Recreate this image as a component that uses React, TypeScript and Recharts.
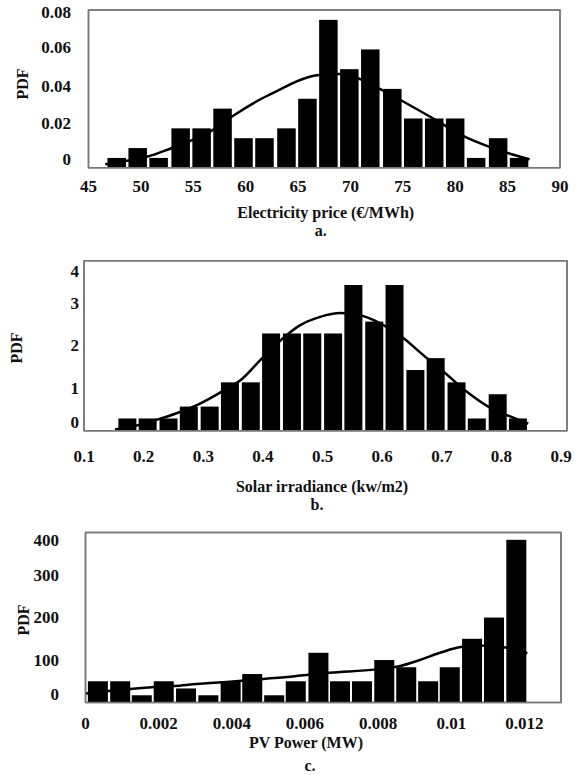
import { Bar, ComposedChart, Line, ReferenceArea, XAxis, YAxis } from "recharts";

// a. electricity price histogram (bin centres, pdf) + fitted curve
const priceBins = [47.7, 49.7, 51.7, 53.8, 55.8, 57.8, 59.8, 61.8, 63.9, 65.9, 67.9, 69.9, 71.9, 74.0, 76.0, 78.0, 80.0, 82.0, 84.1, 86.1];
const pricePdf = [0.005, 0.01, 0.005, 0.02, 0.02, 0.03, 0.015, 0.015, 0.02, 0.035, 0.075, 0.05, 0.06, 0.04, 0.025, 0.025, 0.025, 0.005, 0.015, 0.005];
const priceFitX = [46.6, 48.5, 50.6, 52.9, 54.9, 56.8, 58.7, 61.5, 63.4, 65.2, 67.0, 69.0, 70.9, 72.8, 74.9, 77.9, 80.8, 83.2, 85.3, 87.1];
const priceFitY = [0.0018, 0.0034, 0.0056, 0.0099, 0.014, 0.019, 0.026, 0.035, 0.04, 0.0445, 0.047, 0.0475, 0.045, 0.04, 0.034, 0.025, 0.016, 0.0107, 0.007, 0.0043];
const priceTicks = [45, 50, 55, 60, 65, 70, 75, 80, 85, 90];
const priceYTicks = [0, 0.02, 0.04, 0.06, 0.08];

// b. solar irradiance
const solarBins = [0.173, 0.207, 0.242, 0.276, 0.311, 0.345, 0.38, 0.414, 0.449, 0.483, 0.518, 0.552, 0.587, 0.621, 0.656, 0.69, 0.725, 0.759, 0.794, 0.828];
const solarPdf = [0.29, 0.29, 0.29, 0.57, 0.57, 1.14, 1.14, 2.29, 2.29, 2.29, 2.29, 3.43, 2.57, 3.43, 1.43, 1.71, 1.14, 0.29, 0.86, 0.29];
const solarFitX = [0.152, 0.19, 0.222, 0.253, 0.292, 0.331, 0.365, 0.398, 0.429, 0.462, 0.496, 0.53, 0.563, 0.597, 0.636, 0.669, 0.703, 0.742, 0.778, 0.823, 0.845];
const solarFitY = [0.03, 0.13, 0.26, 0.4, 0.62, 0.92, 1.22, 1.7, 2.12, 2.48, 2.68, 2.77, 2.72, 2.53, 2.18, 1.78, 1.39, 0.92, 0.57, 0.29, 0.17];
const solarTicks = [0.1, 0.2, 0.3, 0.4, 0.5, 0.6, 0.7, 0.8, 0.9];
const solarYTicks = [0, 1, 2, 3, 4];

// c. PV power
const pvBins = [0.00034, 0.00095, 0.00154, 0.00214, 0.00275, 0.00336, 0.00397, 0.00456, 0.00516, 0.00575, 0.00637, 0.00696, 0.00756, 0.00817, 0.00877, 0.00937, 0.00996, 0.01057, 0.01117, 0.01178];
const pvPdf = [50, 50, 17, 50, 33, 17, 50, 67, 17, 50, 117, 50, 50, 100, 83, 50, 83, 150, 200, 383];
const pvFitX = [0, 0.00062, 0.00122, 0.00181, 0.00243, 0.00304, 0.00363, 0.00427, 0.00481, 0.00572, 0.00604, 0.00668, 0.00796, 0.0085, 0.00914, 0.00969, 0.01031, 0.01105, 0.01144, 0.01208];
const pvFitY = [21, 27, 32, 36, 39, 43.5, 47, 51, 55, 62, 65, 70, 78, 84, 100, 117, 131, 134, 130, 116];
const pvTicks = [0, 0.002, 0.004, 0.006, 0.008, 0.01, 0.012];
const pvYTicks = [0, 100, 200, 300, 400];

const FONT = '"Liberation Serif", "Times New Roman", serif';
const BOX = "#777";
const INK = "#111";

type Row = { x: number; pdf?: number; fit?: number };

function buildRows(bx: number[], by: number[], fx: number[], fy: number[]): Row[] {
    const rows: Row[] = [
        ...bx.map((x, i) => ({ x, pdf: by[i] })),
        ...fx.map((x, i) => ({ x, fit: fy[i] })),
    ];
    return rows.sort((a, b) => a.x - b.x);
}

const panels = [
    {
        key: "a",
        top: 0,
        height: 200,
        margin: { top: 10, right: 18, bottom: 2.2, left: 8.5 },
        rows: buildRows(priceBins, pricePdf, priceFitX, priceFitY),
        xDomain: [45, 90],
        xTicks: priceTicks,
        yDomain: [0, 0.08],
        yTicks: priceYTicks,
        barSize: 18.5,
        yTickMargin: 17.5,
        xTickDy: 19,
        yShift: [-8, -4.7, -2.9, -1.5, 2],
    },
    {
        key: "b",
        top: 250,
        height: 215,
        margin: { top: 10.8, right: 11, bottom: 4.2, left: 4 },
        rows: buildRows(solarBins, solarPdf, solarFitX, solarFitY),
        xDomain: [0.1, 0.91],
        xTicks: solarTicks,
        yDomain: [0, 4],
        yTicks: solarYTicks,
        barSize: 18,
        yTickMargin: 5,
        xTickDy: 26,
        yShift: [-8, 0, 0, 0, 11],
    },
    {
        key: "c",
        top: 520,
        height: 215,
        margin: { top: 12.6, right: 17, bottom: 2.5, left: 5.5 },
        rows: buildRows(pvBins, pvPdf, pvFitX, pvFitY),
        xDomain: [0, 0.013],
        xTicks: pvTicks,
        yDomain: [0, 400],
        yTicks: pvYTicks,
        barSize: 20,
        yTickMargin: 26.5,
        xTickDy: 21,
        yShift: [-8.5, 0, 0, 0, 7.5],
    },
];

const titles = [
    { pdf: [22.5, 84], axis: "Electricity price (€/MWh)", ax: 325.7, ay: 218, cap: "a.", cx: 320.7, cy: 236 },
    { pdf: [16, 348], axis: "Solar irradiance (kw/m2)", ax: 322, ay: 492, cap: "b.", cx: 317, cy: 510 },
    { pdf: [23, 620], axis: "PV Power (MW)", ax: 306, ay: 748, cap: "c.", cx: 310, cy: 771 },
];

function Histogram({ p }: { p: (typeof panels)[number] }) {
    const axisLine = { stroke: BOX, strokeWidth: 1.5 };
    const hidden = { stroke: "none", strokeWidth: 0 };
    return (
        <ComposedChart width={578} height={p.height} data={p.rows} margin={p.margin}>
            <XAxis
                dataKey="x"
                type="number"
                domain={p.xDomain}
                ticks={p.xTicks}
                allowDataOverflow
                interval={0}
                height={30}
                tickSize={0}
                tickMargin={p.xTickDy}
                tickLine={false}
                axisLine={axisLine}
                tick={(t: any) => (
                    <text x={t.x} y={t.y} textAnchor="middle" dominantBaseline="central"
                        fontFamily={FONT} fontWeight="bold" fontSize={17} fill={INK}>
                        {String(t.payload.value)}
                    </text>
                )}
            />
            <XAxis
                xAxisId="top"
                orientation="top"
                mirror
                dataKey="x"
                type="number"
                domain={p.xDomain}
                ticks={p.xTicks}
                allowDataOverflow
                interval={0}
                tick={false}
                tickSize={4}
                tickLine={{ stroke: BOX }}
                axisLine={axisLine}
            />
            <YAxis
                type="number"
                domain={p.yDomain}
                ticks={p.yTicks}
                allowDataOverflow
                interval={0}
                width={80}
                tickSize={0}
                tickMargin={p.yTickMargin}
                tickLine={false}
                axisLine={axisLine}
                tick={(t: any) => (
                    <text x={t.x} y={t.y + (p.yShift[t.index] ?? 0)} textAnchor="end" dominantBaseline="central"
                        fontFamily={FONT} fontWeight="bold" fontSize={17} fill={INK}>
                        {String(t.payload.value)}
                    </text>
                )}
            />
            <YAxis
                yAxisId="inner"
                orientation="left"
                mirror
                type="number"
                domain={p.yDomain}
                ticks={p.yTicks}
                allowDataOverflow
                tick={false}
                tickSize={4}
                tickLine={{ stroke: BOX }}
                axisLine={false}
            />
            <YAxis
                yAxisId="right"
                orientation="right"
                mirror
                type="number"
                domain={p.yDomain}
                ticks={p.yTicks}
                allowDataOverflow
                tick={false}
                tickSize={4}
                tickLine={{ stroke: BOX }}
                axisLine={axisLine}
            />
            <ReferenceArea
                x1={p.xDomain[0]}
                x2={p.xDomain[1]}
                y1={p.yDomain[0]}
                y2={p.yDomain[1]}
                fill="none"
                stroke={BOX}
                strokeWidth={1.5}
                ifOverflow="visible"
            />
            <Bar
                dataKey="pdf"
                fill="#000"
                barSize={p.barSize}
                isAnimationActive={false}
                shape={(s: any) =>
                    s.height > 0 ? (
                        <rect x={s.x + s.width / 2 - p.barSize / 2} y={s.y} width={p.barSize} height={s.height} fill="#000" />
                    ) : (
                        <g />
                    )
                }
            />
            <Line dataKey="fit" type="monotone" stroke="#000" strokeWidth={2.5} dot={false}
                connectNulls isAnimationActive={false} />
            {/* invisible series so the mirrored frame axes get a scale */}
            <Line dataKey="fit" xAxisId="top" yAxisId="right" {...hidden} dot={false} activeDot={false}
                connectNulls isAnimationActive={false} />
            <Line dataKey="fit" xAxisId="top" yAxisId="inner" {...hidden} dot={false} activeDot={false}
                connectNulls isAnimationActive={false} />
        </ComposedChart>
    );
}

export default function App() {
    return (
        <div style={{ position: "absolute", left: 0, top: 0, width: 578, height: 775, background: "#fff", overflow: "hidden" }}>
            {panels.map((p) => (
                <div key={p.key} style={{ position: "absolute", left: 0, top: p.top }}>
                    <Histogram p={p} />
                </div>
            ))}
            <svg width={578} height={775} style={{ position: "absolute", left: 0, top: 0, pointerEvents: "none" }}
                fontFamily={FONT} fontWeight="bold" fontSize={16} fill={INK}>
                {titles.map((t) => (
                    <g key={t.cap}>
                        <text transform={`translate(${t.pdf[0]},${t.pdf[1]}) rotate(-90)`} textAnchor="middle" dominantBaseline="central">PDF</text>
                        <text x={t.ax} y={t.ay} textAnchor="middle">{t.axis}</text>
                        <text x={t.cx} y={t.cy} textAnchor="middle">{t.cap}</text>
                    </g>
                ))}
            </svg>
        </div>
    );
}
